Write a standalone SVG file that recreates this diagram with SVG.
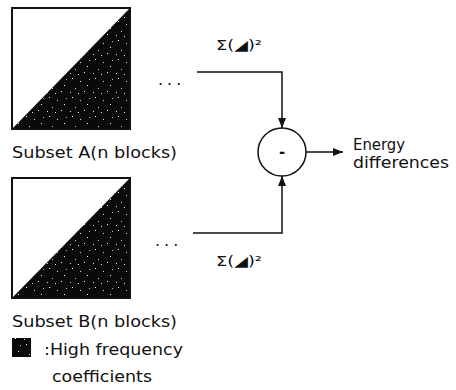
<svg xmlns="http://www.w3.org/2000/svg" width="456" height="390" viewBox="0 0 456 390">
<defs>
<pattern id="speckle" width="23" height="19" patternUnits="userSpaceOnUse">
<rect width="23" height="19" fill="#0a0a0a"/>
<rect x="3" y="2" width="1" height="1" fill="#fff"/>
<rect x="11" y="5" width="1" height="1" fill="#ddd"/>
<rect x="18" y="9" width="1" height="1" fill="#fff"/>
<rect x="6" y="12" width="1" height="1" fill="#ccc"/>
<rect x="15" y="15" width="1" height="1" fill="#fff"/>
<rect x="20" y="3" width="1" height="1" fill="#bbb"/>
<rect x="1" y="16" width="1" height="1" fill="#ddd"/>
<rect x="9" y="17" width="1" height="1" fill="#eee"/>
</pattern>
<marker id="arrow" viewBox="0 0 10 10" refX="10" refY="5" markerWidth="10" markerHeight="10" markerUnits="userSpaceOnUse" orient="auto">
<path d="M0,1 L10,5 L0,9 Z" fill="#111"/>
</marker>
</defs>
<style>
text{font-family:"DejaVu Sans","Liberation Sans",sans-serif;fill:#111;font-size:15px}
.box{fill:#fff;stroke:#111;stroke-width:2}
.hf{fill:url(#speckle)}
.conn{fill:none;stroke:#111;stroke-width:1.5}
.dots{font-size:16px;letter-spacing:4px}
.sig{font-size:14px}
</style>
<g id="subsetA">
<rect class="box" x="12" y="8" width="118" height="121"/>
<polygon class="hf" points="12,129 130,8 130,129"/>
<rect x="12" y="8" width="118" height="121" fill="none" stroke="#111" stroke-width="2"/>
<text x="12" y="158" textLength="165" lengthAdjust="spacingAndGlyphs">Subset A(n blocks)</text>
<text class="dots" x="158" y="85">...</text>
</g>
<g id="subsetB">
<rect class="box" x="12" y="178" width="118" height="120"/>
<polygon class="hf" points="12,298 130,178 130,298"/>
<rect x="12" y="178" width="118" height="120" fill="none" stroke="#111" stroke-width="2"/>
<text x="12" y="327" textLength="165" lengthAdjust="spacingAndGlyphs">Subset B(n blocks)</text>
<text class="dots" x="155" y="246">...</text>
</g>
<g id="subtract">
<circle cx="282" cy="152" r="24" fill="#fff" stroke="#111" stroke-width="1.5"/>
<text x="282" y="157" text-anchor="middle" font-weight="bold" font-size="16">-</text>
</g>
<g id="output">
<text x="353" y="150" textLength="52" lengthAdjust="spacingAndGlyphs">Energy</text>
<text x="353" y="168" textLength="96" lengthAdjust="spacingAndGlyphs">differences</text>
</g>
<g id="legend">
<rect x="12" y="338" width="19" height="19" class="hf"/>
<text x="44" y="355" textLength="139" lengthAdjust="spacingAndGlyphs">:High frequency</text>
<text x="52" y="382" textLength="100" lengthAdjust="spacingAndGlyphs">coefficients</text>
</g>
<g id="connectors">
<polyline class="conn" points="197,72 282,72 282,128" marker-end="url(#arrow)"/>
<polyline class="conn" points="193,233 282,233 282,176" marker-end="url(#arrow)"/>
<line class="conn" x1="306" y1="152" x2="343" y2="152" marker-end="url(#arrow)"/>
<text class="sig" x="216" y="50" textLength="46" lengthAdjust="spacingAndGlyphs">Σ(◢)²</text>
<text class="sig" x="216" y="266" textLength="46" lengthAdjust="spacingAndGlyphs">Σ(◢)²</text>
</g>
</svg>
